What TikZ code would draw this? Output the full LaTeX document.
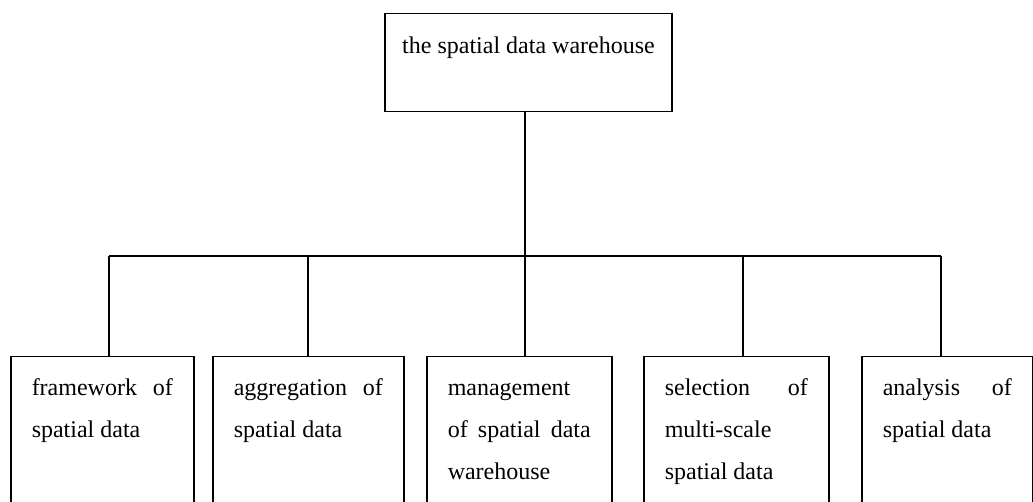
\documentclass[tikz,border=0pt]{standalone}
\usepackage{fontspec}
\setmainfont{Liberation Serif}
\usetikzlibrary{positioning}
\hyphenpenalty=10000
\tolerance=10000

\tikzset{
    txt/.style={font=\fontsize{24}{42}\selectfont},
    topbox/.style={draw, txt, line width=1.5pt, minimum width=287pt, inner sep=0pt,
                   text height=40pt, text depth=58pt, anchor=north},
    leafbox/.style={draw, txt, line width=1.5pt, anchor=north west, align=justify,
                    inner xsep=21pt, inner ysep=0pt, text height=39pt, text depth=115pt},
    link/.style={line width=1.5pt}
}

\begin{document}
\begin{tikzpicture}[x=1pt,y=-1pt]
        \useasboundingbox (0,0) rectangle (1033,502);

        % Root:
        \node [topbox] (top) at (528.5,12.7) {the spatial data warehouse};

        % Leaves:
        % name / left edge / text width / text
        \foreach \name/\x/\w/\txt in {%
            f1/10/141/{framework of spatial data},
            f2/212/149/{aggregation of spatial data},
            f3/426/143/{management of spatial data warehouse},
            f4/643/143/{selection of multi-scale spatial data},
            f5/861/129/{analysis of spatial data}}{%
            \node [leafbox, text width=\w pt] (\name) at (\x,356) {\txt};
        }

        % Connectors:
        % the trunk from the root down to the bus, then one drop per leaf
        \coordinate (j) at (525,256);
        \draw [link] (top.south -| j) -- (j);
        \begin{scope}[link]
        \foreach \name/\bx in {f1/109,f2/308,f3/525,f4/743,f5/941}{%
            \coordinate (b\name) at (\bx,256);
            \draw (b\name) -- (b\name |- \name.north);
        }
        \draw (bf1) -- (bf5);
        \end{scope}
    \end{tikzpicture}
\end{document}
